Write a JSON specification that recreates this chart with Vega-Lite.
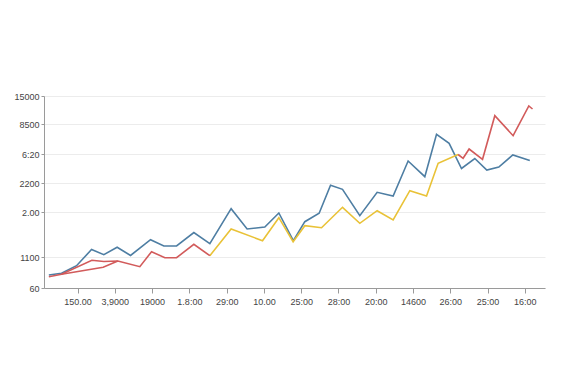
{
  "$schema": "https://vega.github.io/schema/vega-lite/v6.json",
  "autosize": "none",
  "width": 501,
  "height": 192,
  "padding": {"left": 44, "top": 96, "right": 40, "bottom": 102},
  "background": "#ffffff",
  "config": {
    "view": {"stroke": null},
    "axis": {"labelFont": "Liberation Sans", "labelFontSize": 9, "labelColor": "#444444", "domainColor": "#9a9a9a", "tickColor": "#9a9a9a", "gridColor": "#ececec"}
  },
  "data": {"values": [
    {"s": "Blue", "seg": "b", "o": 1, "x": -0.770, "y": 13},
    {"s": "Blue", "seg": "b", "o": 2, "x": -0.429, "y": 14.7},
    {"s": "Blue", "seg": "b", "o": 3, "x": -0.027, "y": 22.3},
    {"s": "Blue", "seg": "b", "o": 4, "x": 0.376, "y": 38.5},
    {"s": "Blue", "seg": "b", "o": 5, "x": 0.705, "y": 33.3},
    {"s": "Blue", "seg": "b", "o": 6, "x": 1.062, "y": 40.7},
    {"s": "Blue", "seg": "b", "o": 7, "x": 1.422, "y": 32.5},
    {"s": "Blue", "seg": "b", "o": 8, "x": 1.958, "y": 48.3},
    {"s": "Blue", "seg": "b", "o": 9, "x": 2.315, "y": 42},
    {"s": "Blue", "seg": "b", "o": 10, "x": 2.656, "y": 42},
    {"s": "Blue", "seg": "b", "o": 11, "x": 3.120, "y": 55.5},
    {"s": "Blue", "seg": "b", "o": 12, "x": 3.549, "y": 44.3},
    {"s": "Blue", "seg": "b", "o": 13, "x": 4.120, "y": 79.3},
    {"s": "Blue", "seg": "b", "o": 14, "x": 4.549, "y": 59},
    {"s": "Blue", "seg": "b", "o": 15, "x": 5.024, "y": 61},
    {"s": "Blue", "seg": "b", "o": 16, "x": 5.400, "y": 75},
    {"s": "Blue", "seg": "b", "o": 17, "x": 5.789, "y": 47.3},
    {"s": "Blue", "seg": "b", "o": 18, "x": 6.097, "y": 66.3},
    {"s": "Blue", "seg": "b", "o": 19, "x": 6.481, "y": 74.7},
    {"s": "Blue", "seg": "b", "o": 20, "x": 6.787, "y": 102.7},
    {"s": "Blue", "seg": "b", "o": 21, "x": 7.108, "y": 98.7},
    {"s": "Blue", "seg": "b", "o": 22, "x": 7.572, "y": 72.3},
    {"s": "Blue", "seg": "b", "o": 23, "x": 8.037, "y": 95.7},
    {"s": "Blue", "seg": "b", "o": 24, "x": 8.466, "y": 92},
    {"s": "Blue", "seg": "b", "o": 25, "x": 8.868, "y": 127},
    {"s": "Blue", "seg": "b", "o": 26, "x": 9.316, "y": 111.3},
    {"s": "Blue", "seg": "b", "o": 27, "x": 9.630, "y": 153.7},
    {"s": "Blue", "seg": "b", "o": 28, "x": 9.968, "y": 144.7},
    {"s": "Blue", "seg": "b", "o": 29, "x": 10.300, "y": 119.5},
    {"s": "Blue", "seg": "b", "o": 30, "x": 10.657, "y": 129.5},
    {"s": "Blue", "seg": "b", "o": 31, "x": 10.979, "y": 118},
    {"s": "Blue", "seg": "b", "o": 32, "x": 11.301, "y": 121},
    {"s": "Blue", "seg": "b", "o": 33, "x": 11.677, "y": 133},
    {"s": "Blue", "seg": "b", "o": 34, "x": 12.132, "y": 127.5},
    {"s": "Yellow", "seg": "y", "o": 1, "x": 3.549, "y": 32.3},
    {"s": "Yellow", "seg": "y", "o": 2, "x": 4.120, "y": 59},
    {"s": "Yellow", "seg": "y", "o": 3, "x": 4.962, "y": 47.3},
    {"s": "Yellow", "seg": "y", "o": 4, "x": 5.400, "y": 70.3},
    {"s": "Yellow", "seg": "y", "o": 5, "x": 5.783, "y": 46.3},
    {"s": "Yellow", "seg": "y", "o": 6, "x": 6.097, "y": 62.3},
    {"s": "Yellow", "seg": "y", "o": 7, "x": 6.545, "y": 60.3},
    {"s": "Yellow", "seg": "y", "o": 8, "x": 7.108, "y": 80.7},
    {"s": "Yellow", "seg": "y", "o": 9, "x": 7.572, "y": 64.7},
    {"s": "Yellow", "seg": "y", "o": 10, "x": 8.037, "y": 77.3},
    {"s": "Yellow", "seg": "y", "o": 11, "x": 8.466, "y": 68},
    {"s": "Yellow", "seg": "y", "o": 12, "x": 8.914, "y": 97.3},
    {"s": "Yellow", "seg": "y", "o": 13, "x": 9.362, "y": 92},
    {"s": "Yellow", "seg": "y", "o": 14, "x": 9.673, "y": 124.7},
    {"s": "Yellow", "seg": "y", "o": 15, "x": 10.209, "y": 133.5},
    {"s": "Red", "seg": "r1", "o": 1, "x": -0.770, "y": 11.3},
    {"s": "Red", "seg": "r1", "o": 2, "x": -0.429, "y": 13.7},
    {"s": "Red", "seg": "r1", "o": 3, "x": 0.384, "y": 27.7},
    {"s": "Red", "seg": "r1", "o": 4, "x": 0.705, "y": 26.5},
    {"s": "Red", "seg": "r1", "o": 5, "x": 1.081, "y": 27},
    {"s": "Red", "seg": "r1", "o": 6, "x": 1.671, "y": 21.3},
    {"s": "Red", "seg": "r1", "o": 7, "x": 1.985, "y": 36.3},
    {"s": "Red", "seg": "r1", "o": 8, "x": 2.342, "y": 30.3},
    {"s": "Red", "seg": "r1", "o": 9, "x": 2.656, "y": 30.3},
    {"s": "Red", "seg": "r1", "o": 10, "x": 3.120, "y": 43.7},
    {"s": "Red", "seg": "r1", "o": 11, "x": 3.549, "y": 32.3},
    {"s": "Red", "seg": "r2", "o": 1, "x": -0.429, "y": 13.7},
    {"s": "Red", "seg": "r2", "o": 2, "x": 0.687, "y": 20.7},
    {"s": "Red", "seg": "r2", "o": 3, "x": 1.081, "y": 27},
    {"s": "Red", "seg": "r3", "o": 1, "x": 10.209, "y": 133.5},
    {"s": "Red", "seg": "r3", "o": 2, "x": 10.343, "y": 129.7},
    {"s": "Red", "seg": "r3", "o": 3, "x": 10.504, "y": 139},
    {"s": "Red", "seg": "r3", "o": 4, "x": 10.864, "y": 128.7},
    {"s": "Red", "seg": "r3", "o": 5, "x": 11.194, "y": 172.3},
    {"s": "Red", "seg": "r3", "o": 6, "x": 11.685, "y": 152.3},
    {"s": "Red", "seg": "r3", "o": 7, "x": 12.106, "y": 182},
    {"s": "Red", "seg": "r3", "o": 8, "x": 12.205, "y": 179}
  ]},
  "mark": {"type": "line", "strokeWidth": 1.6, "strokeJoin": "miter"},
  "encoding": {
    "x": {
      "field": "x", "type": "quantitative",
      "scale": {"domain": [-0.9, 12.54], "nice": false, "zero": false},
      "axis": {
        "title": null, "grid": false, "values": [0,1,2,3,4,5,6,7,8,9,10,11,12],
        "labelExpr": "['150.00','3,9000','19000','1.8:00','29:00','10.00','25:00','28:00','20:00','14600','26:00','25:00','16:00'][datum.value]",
        "tickSize": 5, "labelPadding": 4, "labelFlush": false
      }
    },
    "y": {
      "field": "y", "type": "quantitative",
      "scale": {"domain": [0, 192], "nice": false},
      "axis": {
        "title": null, "grid": true, "values": [0, 31, 76, 105, 134, 164, 192],
        "labelExpr": "datum.value == 0 ? '60' : datum.value == 31 ? '1100' : datum.value == 76 ? '2.00' : datum.value == 105 ? '2200' : datum.value == 134 ? '6:20' : datum.value == 164 ? '8500' : '15000'",
        "tickSize": 3, "labelPadding": 2, "labelFlush": false
      }
    },
    "color": {
      "field": "s", "type": "nominal", "legend": null,
      "scale": {"domain": ["Blue", "Yellow", "Red"], "range": ["#4e7ea3", "#e9c237", "#d25b5b"]}
    },
    "detail": {"field": "seg"},
    "order": {"field": "o", "type": "quantitative"}
  }
}
